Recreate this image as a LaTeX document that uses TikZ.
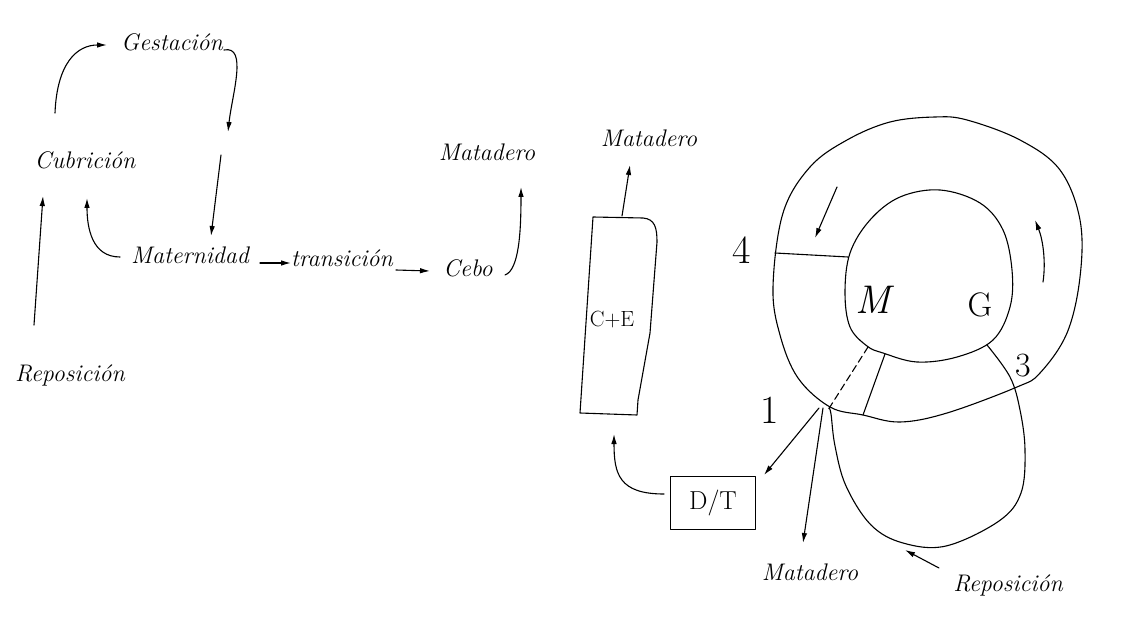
\documentclass[tikz,border=0pt]{standalone}
\usepackage{fontspec}
\setmainfont{Latin Modern Roman}
\usetikzlibrary{arrows.meta}
\begin{document}
\begin{tikzpicture}[x=1pt,y=-1pt,
  ink/.style={line width=1.1pt, line cap=round, line join=round},
  arr/.style={ink,-{Latex[length=10pt,width=5.5pt]}},
  word/.style={font=\fontsize{24}{26}\selectfont\itshape, inner sep=1pt},
  lab/.style={font=\fontsize{40}{42}\selectfont, inner sep=1pt},
  boxlab/.style={font=\fontsize{22}{24}\selectfont, inner sep=0pt}
]
\useasboundingbox (0,0) rectangle (1129,617);
\fill[white] (0,0) rectangle (1129,617);

% ---- left flow ----
\node[word] (gest) at (172,42) {Gestación};
\node[word] (cub) at (85,160) {Cubrición};
\node[word] (mat) at (190,255) {Maternidad};
\node[word] (trans) at (342,258) {transición};
\node[word] (cebo) at (468,268) {Cebo};
\node[word] (mat1) at (487,152) {Matadero};
\node[word] (repo1) at (70,375) {Reposición};

\draw[arr] ([shift={(-30,-47)}]cub.center) .. controls +(2,-50) and +(-30,0) .. ([shift={(-65,3)}]gest.center);
\coordinate (g1) at (228,132);
\coordinate (g2) at (221,155);
\draw[arr] ([shift={(52,8)}]gest.center) .. controls (248,45) and (232,95) .. (g1);
\draw[arr] (g2) -- ([shift={(21,-19)}]mat.center);
\draw[arr] ([shift={(-70,2)}]mat.center) .. controls +(-28,0) and +(0,30) .. ([shift={(2,38)}]cub.center);
\draw[arr] ([shift={(-36,-50)}]repo1.center) -- ([shift={(-42,36)}]cub.center);
\draw[arr] ([shift={(70,8)}]mat.center) -- ([shift={(-51,5)}]trans.center);
\draw[arr] ([shift={(54,12)}]trans.center) -- ([shift={(-38,3)}]cebo.center);
\draw[arr] ([shift={(37,7)}]cebo.center) .. controls +(14,-5) and +(0,45) .. ([shift={(34,35)}]mat1.center);

% ---- C+E and D/T ----
\node[word] (mat2) at (649,138) {Matadero};
\node[minimum width=66pt,minimum height=197pt, inner sep=0pt] (ce) at (618,316) {};
\draw[ink] (593,217) -- (643,218) .. controls (655,219) and (657,228) .. (657,242)
  -- (650,333) -- (638,400) -- (637,415) -- (580,413) -- cycle;
\node[boxlab] at (612,320) {C+E};
\node[ink,draw,minimum width=85pt,minimum height=53pt,font=\fontsize{26}{28}\selectfont] (dt) at (713,503) {D/T};
\draw[arr] ([shift={(4,-100)}]ce.center) -- ([shift={(-19,27)}]mat2.center);
\draw[arr] ([shift={(-49,-9)}]dt.center) .. controls +(-45,0) and +(0,40) .. ([shift={(-4,118)}]ce.center);

% ---- right loop ----
\draw[ink] plot[smooth cycle, tension=0.6] coordinates {
  (773,287) (783,213) (810,167) (847,140) (890,122) (935,117) (967,120)
  (1020,140) (1060,170) (1080,220) (1080,277) (1067,333) (1040,373)
  (1017,387) (947,413) (900,422) (863,415) (830,407) (798,378) (780,335)};
\draw[ink] plot[smooth cycle, tension=0.6] coordinates {
  (940,190) (980,203) (1003,230) (1012,270) (1010,307) (993,340) (957,357)
  (917,362) (883,353) (867,346) (850,327) (845,293) (850,253) (870,220) (900,197)};
\draw[ink] plot[smooth, tension=0.6] coordinates {
  (987,345) (1010,377) (1020,410) (1025,450) (1021,493) (999,521) (946,546)
  (903,543) (871,525) (846,486) (835,446) (831,414) (829,408)};
\draw[ink] (775,253) -- (848,257);
\draw[ink,dash pattern=on 7pt off 4pt] (868,347) -- (828,410);
\draw[ink] (885,354) -- (863,415);
\draw[arr] (837,187) -- (815,238);
\draw[arr] (1043,282) .. controls (1046,262) and (1043,240) .. (1035,220);

\node[lab] (n4) at (742,250) {4};
\node[lab] (n1) at (770,410) {1};
\node[lab,font=\fontsize{34}{36}\selectfont] (n3) at (1023,366) {3};
\node[lab,font=\fontsize{40}{42}\selectfont\itshape] (nM) at (873,300) {M};
\node[lab,font=\fontsize{34}{36}\selectfont] (nG) at (980,305) {G};

\node[word] (mat3) at (810,572) {Matadero};
\node[word] (repo2) at (1008,585) {Reposición};
\coordinate (j) at (819,408);
\draw[arr] (j) -- ([shift={(51,-28)}]dt.center);
\draw[arr] ([xshift=4pt]j) -- ([shift={(-7,-29)}]mat3.center);
\draw[arr] ([shift={(-69,-17)}]repo2.center) -- (905,550);
\end{tikzpicture}
\end{document}
